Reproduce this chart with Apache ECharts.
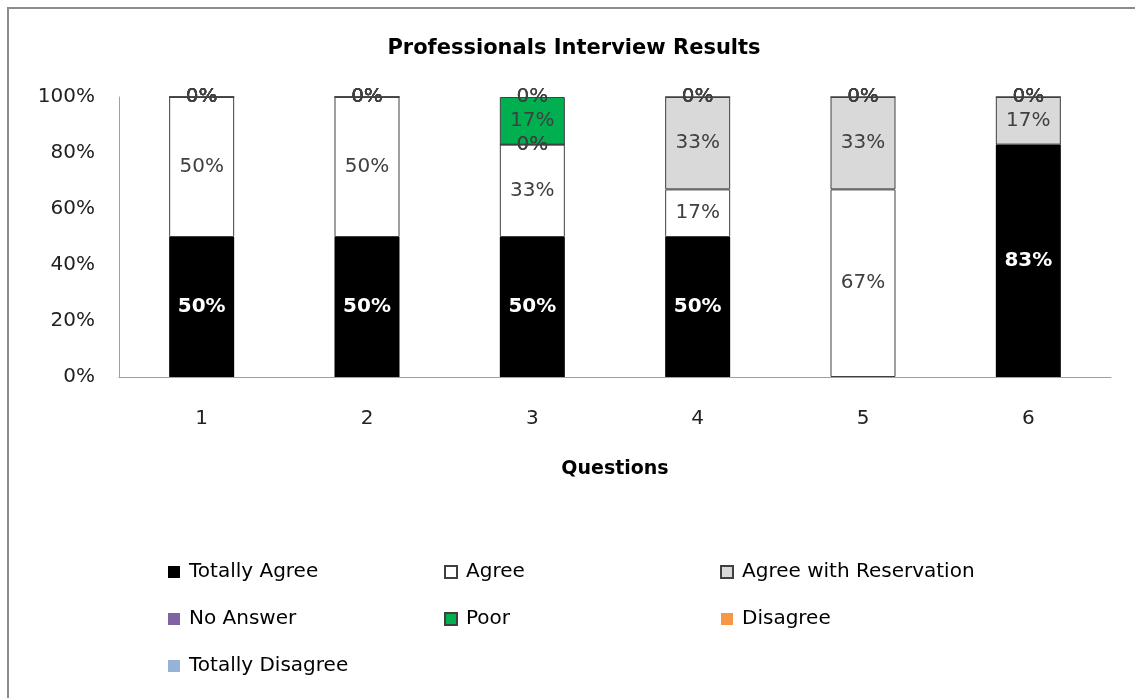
<!DOCTYPE html>
<html>
<head>
<meta charset="utf-8">
<script src="https://cdn.jsdelivr.net/npm/echarts@6/dist/echarts.min.js"></script>
<style>
html,body{margin:0;padding:0;background:#fff;}
#chart{width:1135px;height:698px;}
</style>
</head>
<body>
<div id="chart"></div>
<script>
var categories = ['1', '2', '3', '4', '5', '6'];
var yTicks = [0, 20, 40, 60, 80, 100];
var seriesNames = ['Totally Agree', 'Agree', 'Agree with Reservation', 'No Answer', 'Poor', 'Disagree', 'Totally Disagree'];
var totallyAgree = [50, 50, 50, 50, null, 83];
var agree = [50, 50, 33, 17, 67, null];
var agreeWithReservation = [0, 0, 0, 33, 33, 17];
var noAnswer = [0, 0, 0, 0, 0, 0];
var poor = [0, 0, 17, 0, 0, 0];
var disagree = [0, 0, 0, 0, 0, 0];
var totallyDisagree = [0, 0, 0, 0, 0, 0];

var FONT = 'DejaVu Sans';
var colors = ['#000000', '#ffffff', '#d9d9d9', '#8064a2', '#00b050', '#f79646', '#95b3d7'];
var borders = [null, '#404040', '#404040', null, '#404040', null, null];
var dataSets = [totallyAgree, agree, agreeWithReservation, noAnswer, poor, disagree, totallyDisagree];

var series = seriesNames.map(function (name, i) {
  var isTA = i === 0;
  return {
    name: name,
    type: 'bar',
    stack: 'total',
    barWidth: 65,
    data: dataSets[i],
    itemStyle: {
      color: colors[i],
      borderColor: borders[i] || colors[i],
      borderWidth: borders[i] ? 1 : 0
    },
    label: {
      show: true,
      position: 'inside',
      formatter: function (p) { return p.value + '%'; },
      fontFamily: FONT,
      fontSize: 20,
      fontWeight: isTA ? 'bold' : 'normal',
      color: isTA ? '#ffffff' : '#404040'
    },
    emphasis: { disabled: true }
  };
});

function legendCol(left, names) {
  return {
    orient: 'vertical',
    left: left,
    top: 562,
    padding: 0,
    itemWidth: 12,
    itemHeight: 12,
    itemGap: 27,
    icon: 'rect',
    selectedMode: false,
    data: names,
    textStyle: { fontFamily: FONT, fontSize: 20, color: '#000', padding: [0, 0, 0, 4] }
  };
}

var chart = echarts.init(document.getElementById('chart'), null, { renderer: 'canvas' });
chart.setOption({
  backgroundColor: '#ffffff',
  animation: false,
  title: {
    text: 'Professionals Interview Results',
    left: 569,
    textAlign: 'center',
    top: 33,
    textStyle: { fontFamily: FONT, fontSize: 21, fontWeight: 'bold', color: '#000' }
  },
  graphic: [{
    type: 'rect',
    shape: { x: 8, y: 8, width: 1140, height: 700 },
    style: { fill: 'none', stroke: '#8c8c8c', lineWidth: 2 },
    silent: true
  }],
  legend: [
    legendCol(168, ['Totally Agree', 'No Answer', 'Totally Disagree']),
    legendCol(444, ['Agree', 'Poor']),
    legendCol(720, ['Agree with Reservation', 'Disagree'])
  ],
  grid: { left: 119, right: 24, top: 97, bottom: 321, containLabel: false },
  xAxis: {
    type: 'category',
    data: categories,
    name: 'Questions',
    nameLocation: 'middle',
    nameGap: 83,
    nameTextStyle: { fontFamily: FONT, fontSize: 19, fontWeight: 'bold', color: '#000' },
    axisLine: { lineStyle: { color: '#a0a0a0', width: 1 } },
    axisTick: { show: false },
    axisLabel: { fontFamily: FONT, fontSize: 20, color: '#222', margin: 32 }
  },
  yAxis: {
    type: 'value',
    min: yTicks[0],
    max: yTicks[yTicks.length - 1],
    interval: yTicks[1] - yTicks[0],
    axisLine: { show: true, lineStyle: { color: '#a0a0a0', width: 1 } },
    axisTick: { show: false },
    splitLine: { show: false },
    axisLabel: { fontFamily: FONT, fontSize: 20, color: '#222', margin: 24, formatter: '{value}%' }
  },
  series: series
});
</script>
</body>
</html>
